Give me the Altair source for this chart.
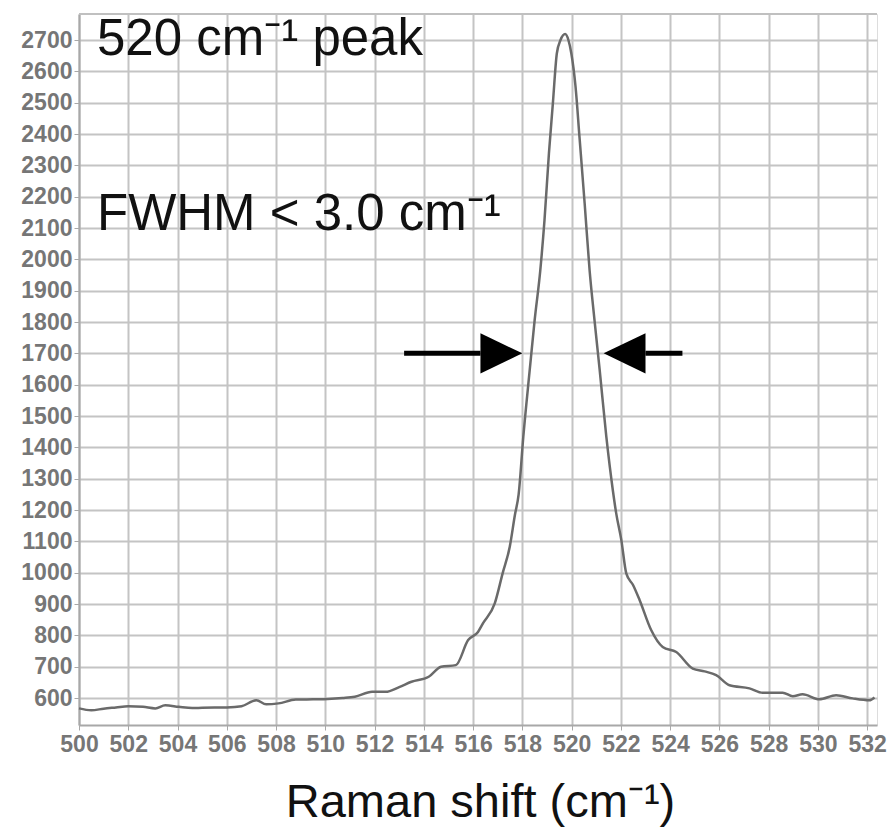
import altair as alt
import pandas as pd

# Raman spectrum of crystalline silicon around the 520 cm-1 band
shift = [
    500.0, 500.5, 501.0, 501.5, 502.0, 502.6, 503.1, 503.5, 504.05, 504.6,
    505.0, 506.0, 506.6, 507.2, 507.6, 508.1, 508.8, 509.5, 510.1, 510.7,
    511.2, 511.9, 512.45, 513.0, 513.5, 514.2, 514.7, 515.3, 515.8, 516.2,
    516.4, 516.88, 517.2, 517.49, 517.7, 517.85, 518.04, 518.3, 518.5, 518.73,
    518.9, 519.08, 519.24, 519.4, 519.55, 519.74, 519.87, 519.99, 520.16, 520.32,
    520.53, 520.73, 520.93, 521.14, 521.41, 521.68, 521.81, 522.02, 522.22, 522.5,
    522.76, 523.23, 523.7, 524.25, 524.92, 525.4, 525.87, 526.41, 527.22, 527.76,
    528.57, 528.98, 529.38, 530.06, 530.74, 531.41, 532.09, 532.3,
]
counts = [
    567, 561, 566, 570, 574, 572, 567, 577, 572, 568,
    569, 570, 574, 593, 580, 583, 595, 596, 597, 600,
    604, 620, 620, 635, 652, 668, 700, 705, 785, 811,
    838, 902, 998, 1083, 1185, 1250, 1434, 1647, 1806, 1966,
    2125, 2338, 2498, 2657, 2700, 2719, 2700, 2657, 2551, 2391,
    2179, 1966, 1806, 1647, 1434, 1260, 1190, 1104, 998, 960,
    913, 817, 763, 747, 694, 685, 673, 641, 631, 617,
    617, 606, 612, 596, 609, 599, 593, 602,
]

# FWHM marker arrows at the half-height level
arrow_level = 1700
arrow_name = ["left", "right"]
shaft_start = [513.2, 523.0]
shaft_end = [516.3, 524.5]
head_base = [516.3, 523.0]
head_tip = [518.0, 521.3]
head_half = 64

x_ticks = list(range(500, 533, 2))
y_ticks = list(range(600, 2701, 100))

spectrum = pd.DataFrame({"shift": shift, "counts": counts})
shafts = pd.DataFrame({"name": arrow_name, "x": shaft_start, "x2": shaft_end,
                       "y": [arrow_level] * 2})
heads = pd.DataFrame({
    "name": [n for n in arrow_name for _ in range(2)],
    "x": [v for b, t in zip(head_base, head_tip) for v in (b, t)],
    "lo": [arrow_level - head_half, arrow_level] * 2,
    "hi": [arrow_level + head_half, arrow_level] * 2,
})

W, H = 798, 711
FONT = "Liberation Sans"
x_scale = alt.Scale(domain=[500, 532.4], nice=False, zero=False)
y_scale = alt.Scale(domain=[514, 2783], nice=False, zero=False)

x_axis = alt.Axis(
    values=x_ticks, format="d", labelFont=FONT, labelFontSize=23,
    labelFontWeight="bold", labelColor="#767676", labelOverlap=False,
    labelFlush=False, labelPadding=3,
    tickSize=5, tickColor="#a8a8a8", domainColor="#a8a8a8", domainWidth=2,
    grid=True, gridColor="#c4c4c4", gridWidth=2,
    title="Raman shift (cm\u207b\u00b9)", titleFont=FONT, titleFontSize=47,
    titleFontWeight="normal", titleColor="#111111",
    titleX=W / 2 + 2, titleY=91, titleBaseline="alphabetic",
)
y_axis = alt.Axis(
    values=y_ticks, format="d", labelFont=FONT, labelFontSize=23,
    labelFontWeight="bold", labelColor="#767676", labelOverlap=False,
    labelPadding=2, tickCount=22,
    tickSize=5, tickColor="#a8a8a8", domainColor="#a8a8a8", domainWidth=2,
    grid=True, gridColor="#c4c4c4", gridWidth=2, title=None,
)


def xq(field):
    return alt.X(field, type="quantitative", scale=x_scale, axis=x_axis)


def yq(field):
    return alt.Y(field, type="quantitative", scale=y_scale, axis=y_axis)


line = alt.Chart(spectrum).mark_line(
    color="#6a6a6a", strokeWidth=2.5, interpolate="monotone"
).encode(x=xq("shift"), y=yq("counts"))

shaft_layer = alt.Chart(shafts).mark_rule(color="black", strokeWidth=5).encode(
    x=xq("x"), x2="x2:Q", y=yq("y"),
)

head_layer = alt.Chart(heads).mark_area(color="black", opacity=1).encode(
    x=xq("x"), y=yq("lo"), y2="hi:Q", detail="name:N",
)

frame_top = alt.Chart(spectrum).mark_rule(color="#c0c0c0", strokeWidth=2).encode(
    x=alt.value(0), x2=alt.value(W), y=alt.value(0)
)

label_df = pd.DataFrame({"t": ["520 cm\u207b\u00b9 peak", "FWHM <  3.0 cm\u207b\u00b9"]})
peak_label = alt.Chart(label_df).transform_filter("datum.t[0] == '5'").mark_text(
    font=FONT, fontSize=51, color="#111111", align="left", baseline="alphabetic"
).encode(x=alt.value(18), y=alt.value(41), text="t:N")
fwhm_label = alt.Chart(label_df).transform_filter("datum.t[0] == 'F'").mark_text(
    font=FONT, fontSize=51, color="#111111", align="left", baseline="alphabetic"
).encode(x=alt.value(18), y=alt.value(216), text="t:N")

chart = alt.layer(
    frame_top, line, shaft_layer, head_layer, peak_label, fwhm_label
).properties(
    width=W, height=H,
    padding={"left": 79, "top": 14, "right": 12, "bottom": 102},
    autosize=alt.AutoSizeParams(type="none"),
).configure_view(stroke=None).configure(background="white")

chart.save("out.html", embed_options={"renderer": "svg", "actions": False})
